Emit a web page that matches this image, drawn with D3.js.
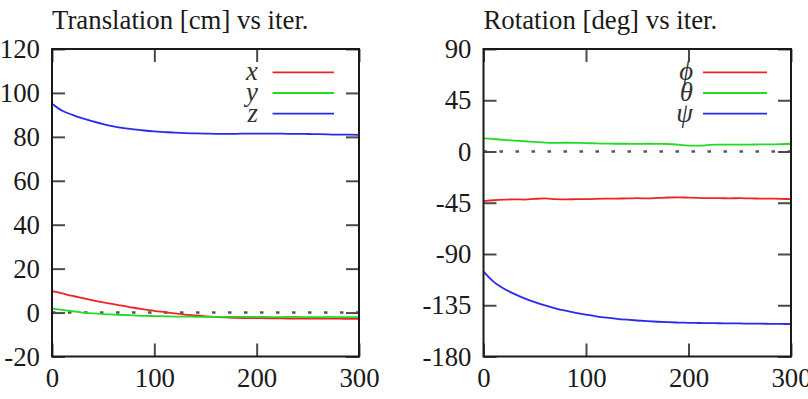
<!DOCTYPE html>
<html><head><meta charset="utf-8">
<script src="https://cdn.jsdelivr.net/npm/d3@7"></script>
<style>
body{margin:0;background:#fff}svg{display:block}
</style>
</head><body><svg id="c" width="808" height="399"></svg>
<script>
// ---- data ----
const iterations = [0,10,20,30,40,50,60,70,80,90,100,110,120,130,140,150,160,170,180,190,200,210,220,230,240,250,260,270,280,290,300];
const transX = [9.8,8.7,7.6,6.6,5.6,4.6,3.8,3.0,2.2,1.5,0.8,0.2,-0.4,-0.9,-1.3,-1.7,-2.0,-2.2,-2.4,-2.5,-2.5,-2.6,-2.6,-2.7,-2.7,-2.7,-2.8,-2.8,-2.8,-2.9,-2.9];
const transY = [1.8,1.2,0.6,0.0,-0.4,-0.7,-0.9,-1.1,-1.3,-1.5,-1.6,-1.7,-1.8,-1.8,-1.9,-2.0,-2.0,-2.0,-2.0,-2.0,-2.0,-2.0,-2.1,-2.0,-2.0,-2.1,-2.1,-2.0,-2.1,-2.1,-2.1];
const transZ = [95.1,91.9,90.0,88.4,87.0,85.8,84.8,84.0,83.4,82.9,82.5,82.2,81.9,81.7,81.6,81.5,81.4,81.4,81.4,81.5,81.5,81.5,81.5,81.4,81.4,81.3,81.2,81.1,81.0,81.0,80.9];
const rotPhi = [-43.5,-42.8,-42.3,-42.0,-42.2,-41.6,-41.2,-41.8,-42.0,-41.9,-41.8,-41.6,-41.4,-41.3,-41.2,-41.0,-41.2,-40.8,-40.4,-40.2,-40.5,-40.8,-41.0,-41.0,-41.1,-41.0,-41.2,-41.3,-41.4,-41.6,-41.8];
const rotTheta = [11.6,10.9,10.2,9.6,9.0,8.4,7.8,7.6,7.7,7.6,7.4,7.1,6.9,6.8,6.8,6.7,6.8,6.7,6.6,6.0,5.2,5.1,5.8,6.0,6.1,6.0,6.1,6.2,6.3,6.4,6.8];
const rotPsi = [-105.5,-114.5,-120.5,-125.0,-129.0,-132.3,-135.2,-137.7,-139.8,-141.6,-143.2,-144.7,-145.9,-146.9,-147.7,-148.4,-149.0,-149.5,-149.9,-150.2,-150.4,-150.6,-150.7,-150.8,-150.9,-151.0,-151.1,-151.2,-151.3,-151.4,-151.5];
const iterTicks = [0,100,200,300];
const transTicksY = [-20,0,20,40,60,80,100,120];
const rotTicksY = [-180,-135,-90,-45,0,45,90];
const transTitle = "Translation [cm] vs iter.";
const rotTitle = "Rotation [deg] vs iter.";
const transLabels = ["x","y","z"];
const rotLabels = ["ϕ","θ","ψ"];
const seriesColors = ["#ee2424","#22dc22","#2a2aee"];

const svg = d3.select("#c");
const FONT = "Liberation Serif";
const FS = 26.8;
const TEXT = "#1a1a1a";

function panel(cfg) {
  const x = d3.scaleLinear().domain([0,300]).range([cfg.left, cfg.right]);
  const y = d3.scaleLinear().domain(cfg.yDomain).range([cfg.bottom, cfg.top]);
  const g = svg.append("g");

  g.append("text").attr("x", cfg.left).attr("y", 28.5)
    .attr("font-family", FONT).attr("font-size", FS).attr("fill", TEXT)
    .text(cfg.title);

  g.append("line").attr("x1", x(0)).attr("x2", x(300)).attr("y1", y(0)).attr("y2", y(0))
    .attr("stroke", "#555").attr("stroke-width", 2.4).attr("stroke-dasharray", "3.5,12.5");

  const tl = 13;
  const fmt = d => String(d);
  const yAxisL = d3.axisLeft(y).tickValues(cfg.yTicks).tickSize(-tl).tickPadding(12).tickFormat(fmt);
  const yAxisR = d3.axisRight(y).tickValues(cfg.yTicks).tickSize(-tl).tickFormat("");
  const xAxisB = d3.axisBottom(x).tickValues(iterTicks).tickSize(-tl).tickPadding(11).tickFormat(fmt);
  const xAxisT = d3.axisTop(x).tickValues(iterTicks).tickSize(-tl).tickFormat("");

  [[yAxisL, `translate(${cfg.left},0)`],
   [yAxisR, `translate(${cfg.right},0)`],
   [xAxisB, `translate(0,${cfg.bottom})`],
   [xAxisT, `translate(0,${cfg.top})`]].forEach(([ax, tr]) => {
    const a = g.append("g").attr("transform", tr).call(ax);
    a.attr("font-family", FONT).attr("font-size", FS);
    a.select(".domain").remove();
    a.selectAll(".tick line").attr("stroke", "#4a4a4a").attr("stroke-width", 2);
    a.selectAll(".tick text").attr("fill", TEXT);
  });

  const line = d3.line().x((d,i) => x(iterations[i])).y(d => y(d)).curve(d3.curveMonotoneX);
  cfg.series.forEach((s, k) => {
    g.append("path").datum(s).attr("d", line).attr("fill", "none")
      .attr("stroke", seriesColors[k]).attr("stroke-width", 1.8).attr("stroke-linejoin", "round");
  });

  g.append("rect").attr("x", cfg.left).attr("y", cfg.top)
    .attr("width", cfg.right - cfg.left).attr("height", cfg.bottom - cfg.top)
    .attr("fill", "none").attr("stroke", "#1a1a1a").attr("stroke-width", 2);

  const legY = [72.3, 93, 113.7];
  cfg.labels.forEach((lab, k) => {
    g.append("text").attr("x", cfg.legText).attr("y", legY[k] + 8)
      .attr("text-anchor", "end").attr("font-family", FONT)
      .attr("font-style", "italic").attr("font-size", FS).attr("fill", "#333")
      .text(lab);
    g.append("line").attr("x1", cfg.legX1).attr("x2", cfg.legX2)
      .attr("y1", legY[k]).attr("y2", legY[k])
      .attr("stroke", seriesColors[k]).attr("stroke-width", 1.8);
  });
}

panel({left: 52, right: 359, top: 49, bottom: 356.5, yDomain: [-20,120], yTicks: transTicksY,
  series: [transX, transY, transZ], labels: transLabels, title: transTitle,
  legText: 258, legX1: 272.5, legX2: 334});
panel({left: 483.5, right: 791, top: 49, bottom: 356.5, yDomain: [-180,90], yTicks: rotTicksY,
  series: [rotPhi, rotTheta, rotPsi], labels: rotLabels, title: rotTitle,
  legText: 693, legX1: 703, legX2: 767});
</script></body></html>
